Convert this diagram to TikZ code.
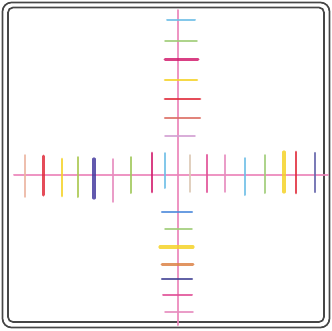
\documentclass[tikz,border=0pt]{standalone}
\usepackage{tikz}

\definecolor{tpeach}{RGB}{235,180,160}
\definecolor{tred}{RGB}{225,45,60}
\definecolor{tyellow}{RGB}{245,210,40}
\definecolor{tygreen}{RGB}{170,200,80}
\definecolor{tindigo}{RGB}{70,60,160}
\definecolor{tpinkl}{RGB}{230,140,190}
\definecolor{tgreen}{RGB}{160,200,90}
\definecolor{tcrimson}{RGB}{210,30,110}
\definecolor{tsky}{RGB}{110,190,230}
\definecolor{tbeige}{RGB}{220,200,180}
\definecolor{tpink}{RGB}{225,80,150}
\definecolor{tlgreen}{RGB}{160,205,120}
\definecolor{tslate}{RGB}{100,100,170}
\definecolor{tsalmon}{RGB}{220,110,100}
\definecolor{tlilac}{RGB}{210,160,210}
\definecolor{tcorn}{RGB}{80,140,220}
\definecolor{torange}{RGB}{220,130,70}
\definecolor{tnavy}{RGB}{70,70,150}
\definecolor{taxis}{RGB}{235,130,185}

\begin{document}
\begin{tikzpicture}[x=1pt, y=-1pt, line cap=round, frame/.style={gray!55!black, line width=1.7pt}]
	\useasboundingbox (0,0) rectangle (332,330);
	\draw[frame, rounded corners=9pt] (2.5,2.5) rectangle (329.5,327.5);
	\draw[frame, rounded corners=5pt] (8,7.5) rectangle (324,322);
	% axes
	\draw[taxis, line width=2pt, opacity=0.85] (14,175) -- (328,175);
	\draw[taxis, line width=2pt, opacity=0.85] (178,10) -- (178,325);
	% ticks on the x axis
	\foreach \x/\a/\b/\c/\w in {25/155/197/tpeach/1.6, 43/156/195/tred/3, 62/159/196/tyellow/2.8,
		78/157/197/tygreen/2, 94/159/198/tindigo/3.2, 113/159/202/tpinkl/1.7, 131/157/193/tgreen/2,
		152/153/192/tcrimson/2.8, 165/153/188/tsky/2, 190/155/192/tbeige/1.7, 207/155/192/tpink/2.2,
		225/155/192/tpinkl/1.6, 245/158/195/tsky/2, 265/155/193/tlgreen/2, 284/152/192/tyellow/3.2,
		296/152/193/tred/2.8, 315/153/192/tslate/2.4}
		\draw[\c, line width=\w pt, opacity=0.85] (\x,\a) -- (\x,\b);
	% ticks on the y axis
	\foreach \y/\a/\b/\c/\w in {20/167/195/tsky/2, 41/165/197/tlgreen/1.8, 59/165/198/tcrimson/3,
		80/165/197/tyellow/2.6, 99/165/200/tred/2.8, 118/165/200/tsalmon/2.2, 136/165/195/tlilac/1.7,
		212/162/192/tcorn/2.4, 229/165/192/tlgreen/1.6, 247/160/193/tyellow/3.2, 264/162/193/torange/3,
		279/162/192/tnavy/2.4, 295/163/192/tpink/2, 312/165/193/tpinkl/1.7}
		\draw[\c, line width=\w pt, opacity=0.85] (\a,\y) -- (\b,\y);
\end{tikzpicture}
\end{document}
